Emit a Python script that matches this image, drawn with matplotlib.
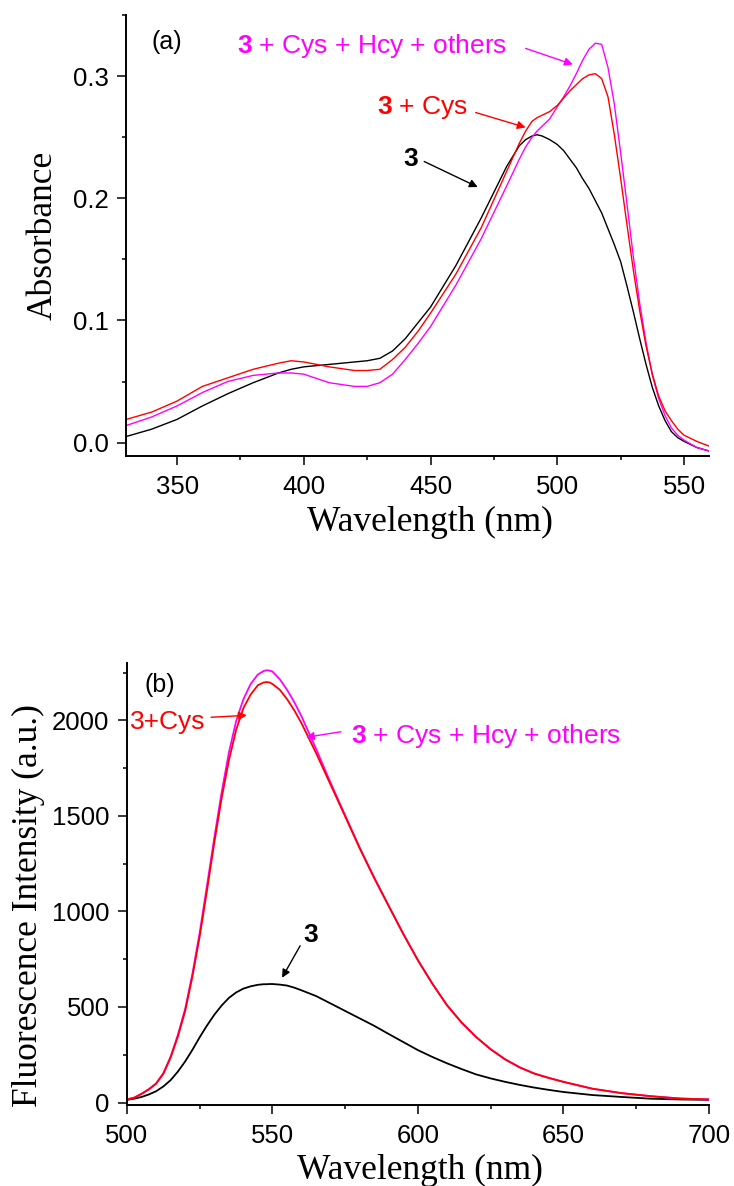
import numpy as np
import matplotlib
matplotlib.use('Agg')
import matplotlib.pyplot as plt
from matplotlib.ticker import MultipleLocator

plt.rcParams['font.family'] = ['Liberation Sans', 'DejaVu Sans']
plt.rcParams['mathtext.fontset'] = 'custom'
plt.rcParams['mathtext.rm'] = 'Liberation Sans'
plt.rcParams['mathtext.bf'] = 'Liberation Sans:bold'

### (a) absorption spectra ###
wl_abs = [330, 340, 350, 360, 370, 380, 390, 395, 400, 410, 420, 425, 430, 435,
          440, 445, 450, 460, 470, 480, 485, 487.5, 490, 492, 494, 497, 500,
          502.5, 505, 507.5, 510, 512.5, 515, 517.5, 520, 522.5, 525, 527.5,
          530, 532.5, 535, 537.5, 540, 542.5, 545, 547.5, 550, 555, 560]
abs_3 = [0.005, 0.011, 0.019, 0.030, 0.040, 0.049, 0.057, 0.060, 0.062, 0.064,
         0.066, 0.067, 0.069, 0.075, 0.085, 0.098, 0.111, 0.145, 0.184, 0.226,
         0.243, 0.248, 0.251, 0.252, 0.251, 0.248, 0.244, 0.239, 0.232, 0.225,
         0.216, 0.208, 0.198, 0.188, 0.175, 0.162, 0.148, 0.128, 0.107, 0.085,
         0.064, 0.045, 0.030, 0.018, 0.009, 0.004, 0.001, -0.004, -0.007]
abs_cys = [0.019, 0.025, 0.034, 0.046, 0.053, 0.060, 0.065, 0.067, 0.066, 0.062,
           0.059, 0.059, 0.060, 0.068, 0.078, 0.091, 0.106, 0.138, 0.176, 0.222,
           0.245, 0.255, 0.263, 0.266, 0.268, 0.271, 0.276, 0.282, 0.288, 0.293,
           0.298, 0.301, 0.302, 0.298, 0.283, 0.252, 0.216, 0.178, 0.141, 0.108,
           0.079, 0.056, 0.038, 0.026, 0.018, 0.011, 0.006, 0.001, -0.003]
abs_all = [0.014, 0.021, 0.030, 0.041, 0.050, 0.055, 0.057, 0.057, 0.056, 0.049,
           0.046, 0.046, 0.049, 0.056, 0.068, 0.081, 0.095, 0.129, 0.167, 0.210,
           0.232, 0.242, 0.250, 0.255, 0.259, 0.265, 0.275, 0.283, 0.292, 0.302,
           0.313, 0.322, 0.327, 0.326, 0.307, 0.277, 0.237, 0.195, 0.152, 0.114,
           0.082, 0.055, 0.036, 0.022, 0.012, 0.006, 0.002, -0.004, -0.007]

### (b) fluorescence spectra ###
wl_fl = [500, 502.5, 505, 507.5, 510, 512.5, 515, 517.5, 520, 522.5, 525, 527.5,
         530, 532.5, 535, 537.5, 540, 542.5, 545, 547, 548, 549, 550, 552.5,
         555, 557.5, 560, 565, 570, 575, 580, 585, 590, 595, 600, 605, 610,
         615, 620, 625, 630, 635, 640, 645, 650, 660, 670, 680, 690, 700]
fl_3 = [14, 20, 29, 42, 59, 84, 117, 162, 215, 276, 342, 403, 459, 507, 547,
        576, 596, 608, 616, 619, 619, 620, 620, 617, 612, 601, 587, 557, 518,
        479, 440, 401, 358, 316, 274, 238, 205, 175, 147, 126, 108, 92, 78,
        66, 55, 39, 29, 20, 16, 14]
fl_cys = [16, 25, 45, 68, 98, 150, 235, 345, 479, 660, 870, 1110, 1359, 1590,
          1789, 1950, 2063, 2135, 2184, 2198, 2200, 2198, 2190, 2160, 2111,
          2052, 1984, 1828, 1662, 1496, 1329, 1173, 1026, 880, 743, 620, 508,
          418, 342, 278, 225, 183, 151, 128, 108, 72, 49, 33, 21, 16]
fl_all = [16, 26, 46, 70, 100, 154, 240, 355, 490, 675, 890, 1135, 1385, 1620,
          1830, 1995, 2110, 2190, 2240, 2258, 2262, 2260, 2255, 2215, 2160,
          2095, 2020, 1850, 1672, 1502, 1333, 1176, 1028, 882, 745, 621, 509,
          419, 343, 279, 226, 184, 152, 129, 108, 72, 49, 33, 21, 16]

MAG = '#ff00ff'
RED = '#ff0000'

fig = plt.figure(figsize=(7.34, 11.86), dpi=100)
axA = fig.add_axes([0.1722, 0.6155, 0.7943, 0.3718])
axB = fig.add_axes([0.1730, 0.0683, 0.7929, 0.3727])

def style_axes(ax):
    for side in ('top', 'right'):
        ax.spines[side].set_visible(False)
    for side in ('left', 'bottom'):
        ax.spines[side].set_linewidth(1.4)
    ax.tick_params(which='major', direction='out', length=6.5, width=1.1,
                   labelsize=18.5, pad=6)
    ax.tick_params(which='minor', direction='out', length=3, width=1.1)
    ax.tick_params(axis='x', which='major', pad=7)

def arrow(ax, start, tip, color):
    ax.annotate('', xy=tip, xytext=start,
                arrowprops=dict(arrowstyle='-|>', color=color, lw=1.0,
                                mutation_scale=12, shrinkA=0, shrinkB=0))

# panel (a)
axA.plot(wl_abs, abs_3, color='black', lw=1.0)
axA.plot(wl_abs, abs_all, color=MAG, lw=1.0)
axA.plot(wl_abs, abs_cys, color=RED, lw=1.0)
axA.set_xlim(330, 560)
axA.set_ylim(-0.011, 0.35)
axA.xaxis.set_major_locator(MultipleLocator(50))
axA.xaxis.set_minor_locator(MultipleLocator(25))
axA.yaxis.set_major_locator(MultipleLocator(0.1))
axA.yaxis.set_minor_locator(MultipleLocator(0.05))
axA.set_yticks([0.0, 0.1, 0.2, 0.3])
axA.set_yticklabels(['0.0', '0.1', '0.2', '0.3'])
style_axes(axA)

axA.text(346, 0.3276, '(a)', fontsize=18, ha='center', va='center')
axA.text(373.7, 0.3243, r'$\mathbf{3}$ + Cys + Hcy + others', color=MAG,
         fontsize=19, ha='left', va='center')
arrow(axA, (487.5, 0.3227), (506.1, 0.3096), MAG)
axA.text(429.0, 0.2747, r'$\mathbf{3}$ + Cys', color=RED, fontsize=19,
         ha='left', va='center')
arrow(axA, (467.8, 0.2702), (487.5, 0.258), RED)
axA.text(442.1, 0.2325, r'$\mathbf{3}$', color='black', fontsize=19,
         ha='center', va='center')
arrow(axA, (447.5, 0.2301), (468.6, 0.2092), 'black')

# panel (b)
axB.plot(wl_fl, fl_3, color='black', lw=1.3)
axB.plot(wl_fl, fl_all, color=MAG, lw=1.3)
axB.plot(wl_fl, fl_cys, color=RED, lw=1.3)
axB.set_xlim(500, 700)
axB.set_ylim(-13, 2300)
axB.xaxis.set_major_locator(MultipleLocator(50))
axB.xaxis.set_minor_locator(MultipleLocator(25))
axB.yaxis.set_major_locator(MultipleLocator(500))
axB.yaxis.set_minor_locator(MultipleLocator(250))
style_axes(axB)

axB.text(511.3, 2183, '(b)', fontsize=18, ha='center', va='center')
axB.text(501.2, 1990, '3+Cys', color=RED, fontsize=19, ha='left', va='center')
arrow(axB, (528.9, 2016), (541.2, 2026), RED)
axB.text(577.0, 1916, r'$\mathbf{3}$ + Cys + Hcy + others', color=MAG,
         fontsize=19, ha='left', va='center')
arrow(axB, (573.5, 1940), (561.5, 1911), MAG)
axB.text(563.2, 877, r'$\mathbf{3}$', color='black', fontsize=19,
         ha='center', va='center')
arrow(axB, (559.5, 820), (553.3, 653), 'black')

# axis titles in serif
W, H = 734.0, 1186.0
serif = dict(family=['Liberation Serif', 'DejaVu Serif'], fontsize=25.5)
fig.text(430 / W, 1 - 522 / H, 'Wavelength (nm)', ha='center', va='center', **serif)
fig.text(43 / W, 1 - 235 / H, 'Absorbance', ha='center', va='center',
         rotation=90, **serif)
fig.text(420 / W, 1 - 1170 / H, 'Wavelength (nm)', ha='center', va='center', **serif)
fig.text(28 / W, 1 - 906 / H, 'Fluorescence Intensity (a.u.)', ha='center',
         va='center', rotation=90, **serif)

fig.savefig('out.png', dpi=100)
